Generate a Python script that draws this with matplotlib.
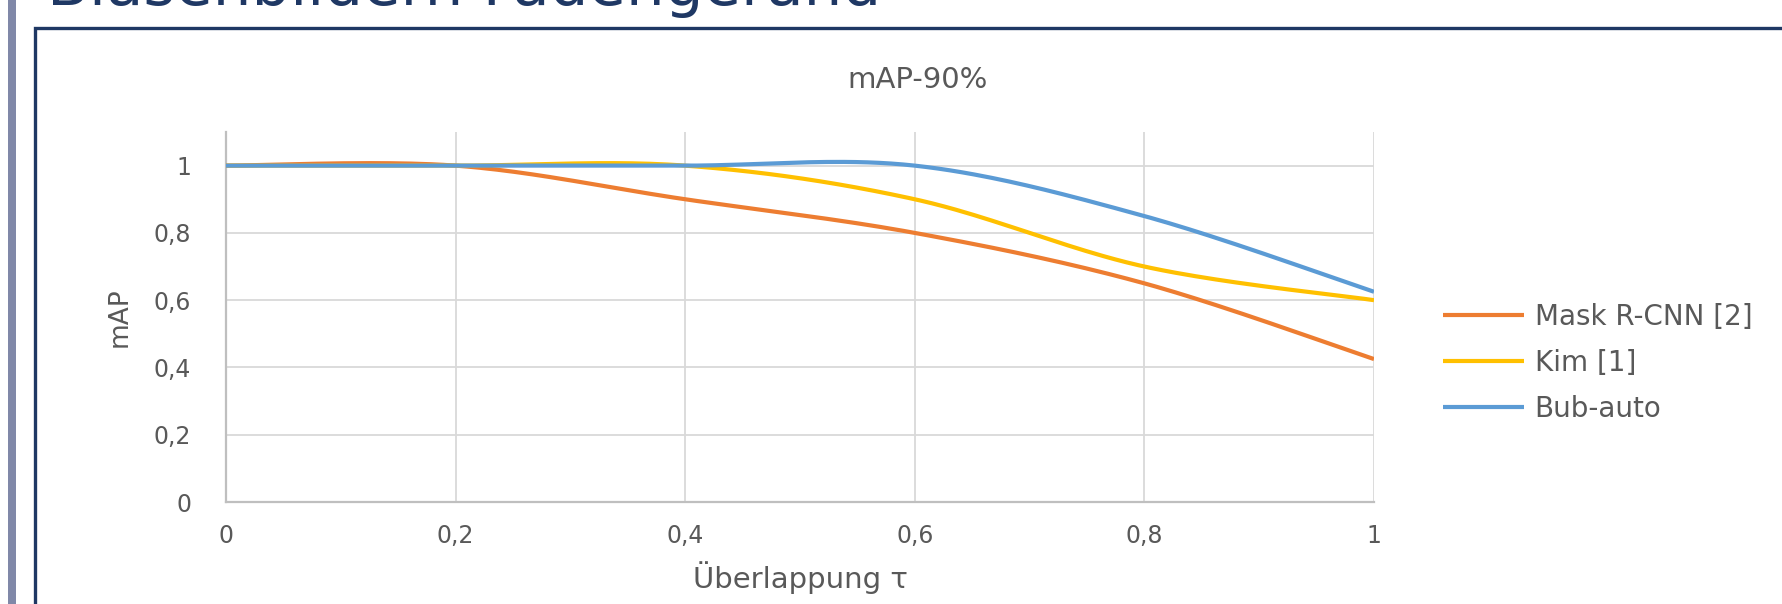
import numpy as np
import matplotlib.pyplot as plt
from matplotlib.patches import Rectangle

OUTPUT_PATH = "out.png"

overlap = [0, 0.2, 0.4, 0.6, 0.8, 1.0]
mask_rcnn = [1.0, 1.0, 0.9, 0.8, 0.65, 0.425]
kim = [1.0, 1.0, 1.0, 0.9, 0.7, 0.6]
bub_auto = [1.0, 1.0, 1.0, 1.0, 0.85, 0.625]

series_names = ["Mask R-CNN [2]", "Kim [1]", "Bub-auto"]
series_colors = ["#ED7D31", "#FFC000", "#5B9BD5"]
x_ticks = [0, 0.2, 0.4, 0.6, 0.8, 1.0]
x_tick_labels = ["0", "0,2", "0,4", "0,6", "0,8", "1"]
y_ticks = [0, 0.2, 0.4, 0.6, 0.8, 1.0]
y_tick_labels = ["0", "0,2", "0,4", "0,6", "0,8", "1"]

TEXT_GREY = "#595959"
NAVY = "#1F3864"


def excel_smooth(xs, ys, steps=40):
    # Catmull-Rom style bezier, like Excel's "smoothed line"
    pts = np.column_stack([xs, ys]).astype(float)
    n = len(pts)
    out = []
    for i in range(n - 1):
        p0 = pts[max(i - 1, 0)]
        p1 = pts[i]
        p2 = pts[i + 1]
        p3 = pts[min(i + 2, n - 1)]
        c1 = p1 + (p2 - p0) / 6.0
        c2 = p2 - (p3 - p1) / 6.0
        t = np.linspace(0, 1, steps)[:, None]
        seg = ((1 - t) ** 3) * p1 + 3 * ((1 - t) ** 2) * t * c1 + 3 * (1 - t) * t ** 2 * c2 + t ** 3 * p2
        out.append(seg if i == 0 else seg[1:])
    out = np.vstack(out)
    return out[:, 0], out[:, 1]


def main():
    plt.rcParams["font.family"] = ["DejaVu Sans"]
    fig = plt.figure(figsize=(17.82, 6.04), dpi=100)
    W, H = 1782.0, 604.0

    # slide decorations: left bar, chart frame, cut-off slide title
    fig.add_artist(Rectangle((8 / W, 0), 8 / W, 1, transform=fig.transFigure,
                             facecolor="#8088A8", edgecolor="none"))
    fig.add_artist(Rectangle((35 / W, -0.05), 1.1, 1 - 28 / H + 0.05, transform=fig.transFigure,
                             facecolor="none", edgecolor=NAVY, linewidth=2.4))
    fig.text(47 / W, 1 - 5 / H, "Blasenbildern Fadengerand", fontsize=44, color=NAVY,
             ha="left", va="baseline")

    ax = fig.add_axes([226 / W, 1 - 502 / H, 1148 / W, 370 / H])
    for ys, name, color in zip([mask_rcnn, kim, bub_auto], series_names, series_colors):
        sx, sy = excel_smooth(overlap, ys)
        ax.plot(sx, sy, color=color, linewidth=3.0, label=name, solid_capstyle="butt", zorder=3)

    ax.set_xlim(0, 1)
    ax.set_ylim(0, 1.1)
    ax.set_xticks(x_ticks)
    ax.set_xticklabels(x_tick_labels)
    ax.set_yticks(y_ticks)
    ax.set_yticklabels(y_tick_labels)
    ax.tick_params(length=0, labelsize=17, colors=TEXT_GREY)
    ax.tick_params(axis="x", pad=16)
    ax.tick_params(axis="y", pad=25)
    ax.grid(True, color="#D9D9D9", linewidth=1.3)
    ax.set_axisbelow(True)
    for side in ["top", "right"]:
        ax.spines[side].set_visible(False)
    for side in ["left", "bottom"]:
        ax.spines[side].set_color("#BFBFBF")
        ax.spines[side].set_linewidth(1.6)

    ax.set_xlabel("Überlappung τ", fontsize=21, color=TEXT_GREY, labelpad=9)
    ax.set_ylabel("mAP", fontsize=19, color=TEXT_GREY, labelpad=15)
    fig.text(918 / W, 1 - 80 / H, "mAP-90%", fontsize=21, color=TEXT_GREY,
             ha="center", va="center")

    ax.legend(loc="center left", bbox_to_anchor=(1443 / W, 1 - 363 / H),
              bbox_transform=fig.transFigure, frameon=False, fontsize=20,
              handlelength=2.9, handletextpad=0.4, labelspacing=0.65,
              borderpad=0, borderaxespad=0, labelcolor=TEXT_GREY)

    fig.savefig(OUTPUT_PATH, dpi=100, facecolor="white")


if __name__ == "__main__":
    main()
